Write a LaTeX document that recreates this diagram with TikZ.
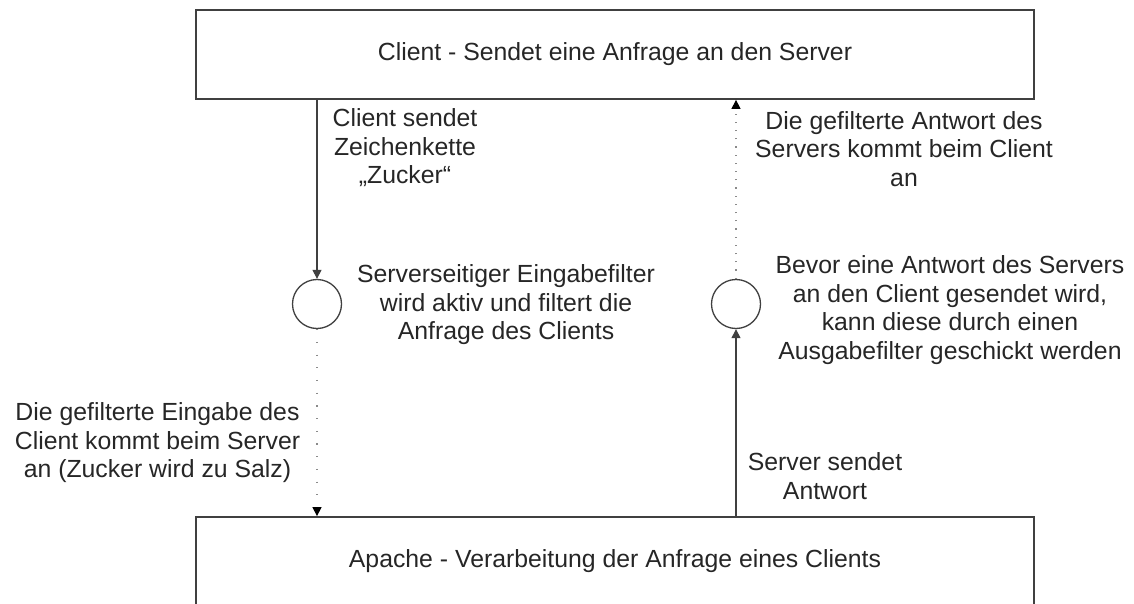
\documentclass[tikz,border=0pt]{standalone}
\usepackage{fontspec}
\setmainfont{Liberation Sans}
\usetikzlibrary{arrows.meta}
\definecolor{linegray}{HTML}{404040}
\definecolor{textgray}{HTML}{262626}
\definecolor{dotgray}{HTML}{8A8A8A}
\begin{document}
\begin{tikzpicture}[x=1pt,y=-1pt,
  every node/.style={text=textgray,font=\fontsize{24.8}{28.5}\selectfont},
  bigbox/.style={draw=linegray,line width=1.8pt,minimum width=838pt,minimum height=89pt,inner sep=0pt},
  filter/.style={circle,draw=linegray,line width=1.3pt,minimum size=49pt,inner sep=0pt},
  lbl/.style={align=center,inner sep=0pt},
  solidarrow/.style={draw=linegray,line width=1.1pt,-{Triangle[length=9pt,width=9pt]}},
  dotarrow/.style={draw=dotgray,line width=1.2pt,dash pattern=on 1.2pt off 7pt,-{Triangle[length=9pt,width=9pt,color=black,fill=black]}},
]
\useasboundingbox (0,0) rectangle (1134,604);
\node[bigbox] (client) at (615,54.5) {Client - Sendet eine Anfrage an den Server};
\node[bigbox] (apache) at (615,561.5) {Apache - Verarbeitung der Anfrage eines Clients};
\node[filter] (infilter) at (317,304) {};
\node[filter] (outfilter) at (736,304) {};

\draw[solidarrow] (client.south -| infilter.north) -- (infilter.north);
\draw[dotarrow,dash pattern=on 1.2pt off 11.5pt] (infilter.south) -- (apache.north -| infilter.south);
\draw[solidarrow] (apache.north -| outfilter.south) -- (outfilter.south);
\draw[dotarrow] (outfilter.north) -- (client.south -| outfilter.north);

\node[lbl] (l1) at (405,148) {Client sendet\\Zeichenkette\\„Zucker“};
\node[lbl] (l2) at (904,149) {Die gefilterte Antwort des\\Servers kommt beim Client\\an};
\node[lbl] (l3) at (506,305) {Serverseitiger Eingabefilter\\wird aktiv und filtert die\\Anfrage des Clients};
\node[lbl] (l4) at (950,310) {Bevor eine Antwort des Servers\\an den Client gesendet wird,\\kann diese durch einen\\Ausgabefilter geschickt werden};
\node[lbl] (l5) at (157.5,443) {Die gefilterte Eingabe des\\Client kommt beim Server\\an (Zucker wird zu Salz)};
\node[lbl] (l6) at (825,476) {Server sendet\\Antwort};
\end{tikzpicture}
\end{document}
